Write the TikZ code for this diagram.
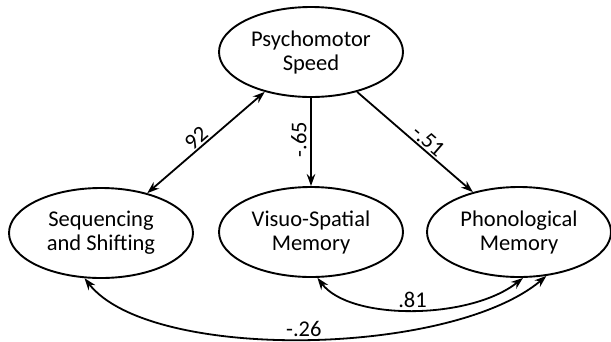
\documentclass[tikz,border=0pt]{standalone}
\usepackage{fontspec}
\setmainfont{Carlito}
\usetikzlibrary{shapes.geometric,arrows.meta}
\begin{document}
\begin{tikzpicture}[x=1pt,y=-1pt,
  latent/.style={ellipse, draw, line width=1.9pt, minimum width=184pt,
    minimum height=90pt, inner sep=0pt, align=center,
    font=\fontsize{22.5}{24}\selectfont},
  tip/.tip={Stealth[length=12pt,width=8.5pt]},
  effect/.style={line width=1.8pt, -tip},
  covar/.style={line width=1.8pt, tip-tip},
  coef/.style={font=\fontsize{22.5}{24}\selectfont, inner sep=2pt}]
  \path[use as bounding box] (0,0) rectangle (611,341);

  % latent factors
  \node[latent] (ps)   at (311,52)  {Psychomotor\\Speed};
  \node[latent] (seq)  at (101,233) {Sequencing\\and Shifting};
  \node[latent] (vs)   at (311,232) {Visuo-Spatial\\Memory};
  \node[latent] (phon) at (519,232) {Phonological\\Memory};

  % structural paths
  \draw[covar] (ps) -- (seq) node[coef, pos=0.53, sloped, above, inner sep=1.5pt] {92};
  \draw[effect] (ps) -- (vs) node[coef, pos=0.47, rotate=90, anchor=south, inner sep=3.5pt] {-.65};
  \draw[effect] (ps) -- (phon) node[coef, pos=0.56, sloped, above, inner sep=1.5pt] {-.51};

  % residual covariances
  \draw[covar] (vs.-82) .. controls (350,321) and (470,320) .. (phon.-85)
    node[coef, pos=0.5, above, inner sep=1.5pt] {.81};
  \draw[covar] (seq.-110) .. controls (150,362) and (450,357) .. (phon.-58)
    node[coef, pos=0.5, above, inner sep=1.5pt] {-.26};
\end{tikzpicture}
\end{document}
